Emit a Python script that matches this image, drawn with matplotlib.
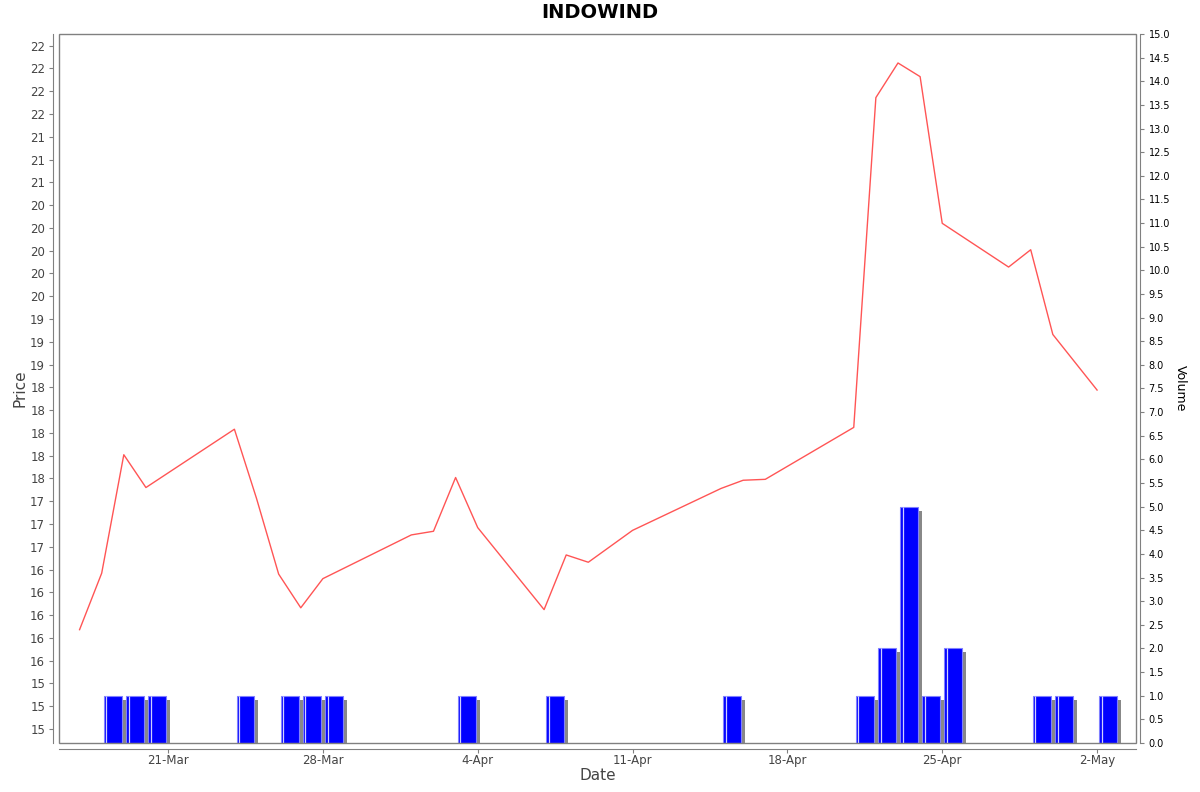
import matplotlib

matplotlib.use("Agg")
import matplotlib.dates as mdates
import matplotlib.pyplot as plt
import numpy as np
import pandas as pd
from matplotlib.patches import Rectangle
from matplotlib.transforms import offset_copy

TITLE = "INDOWIND"

price_dates = [
    "2025-03-17", "2025-03-18", "2025-03-19", "2025-03-20", "2025-03-21",
    "2025-03-24", "2025-03-25", "2025-03-26", "2025-03-27", "2025-03-28",
    "2025-04-01", "2025-04-02", "2025-04-03", "2025-04-04", "2025-04-07",
    "2025-04-08", "2025-04-09", "2025-04-11", "2025-04-15", "2025-04-16",
    "2025-04-17", "2025-04-21", "2025-04-22", "2025-04-23", "2025-04-24",
    "2025-04-25", "2025-04-28", "2025-04-29", "2025-04-30", "2025-05-02",
]
prices = [
    15.84, 16.46, 17.76, 17.40, 17.56,
    18.04, 17.28, 16.45, 16.08, 16.40,
    16.88, 16.92, 17.51, 16.96, 16.06,
    16.66, 16.58, 16.93, 17.39, 17.48,
    17.49, 18.06, 21.68, 22.06, 21.91,
    20.30, 19.82, 20.01, 19.08, 18.47,
]

volume_dates = [
    "2025-03-18", "2025-03-19", "2025-03-20", "2025-03-24", "2025-03-26",
    "2025-03-27", "2025-03-28", "2025-04-03", "2025-04-07", "2025-04-15",
    "2025-04-21", "2025-04-22", "2025-04-23", "2025-04-24", "2025-04-25",
    "2025-04-29", "2025-04-30", "2025-05-02",
]
volumes = [1, 1, 1, 1, 1, 1, 1, 1, 1, 1, 1, 2, 5, 1, 2, 1, 1, 1]

date_ticks = ["2025-03-21", "2025-03-28", "2025-04-04", "2025-04-11",
              "2025-04-18", "2025-04-25", "2025-05-02"]

AXIS_GREY = "#808080"
TEXT_GREY = "#444444"

px = mdates.date2num(pd.to_datetime(price_dates))
vx = mdates.date2num(pd.to_datetime(volume_dates))
tx = mdates.date2num(pd.to_datetime(date_ticks))

fig = plt.figure(figsize=(12, 7.92), dpi=100)
W, H = 1200, 792
ax = fig.add_axes([59 / W, 1 - 743 / H, (1136 - 59) / W, (743 - 34) / H])
ax2 = ax.twinx()
ax.set_zorder(ax2.get_zorder() + 1)
ax.patch.set_visible(False)

# volume bars with drop shadow
shadow = offset_copy(ax2.transData, fig=fig, x=4, y=-4, units="dots")
ax2.bar(vx + 0.1, volumes, width=0.8, align="edge", color="#888888",
        linewidth=0, transform=shadow, zorder=1)
ax2.bar(vx + 0.1, volumes, width=0.8, align="edge", color="#0000ff",
        edgecolor="#8080ff", linewidth=0.8, zorder=2)
hi = offset_copy(ax2.transData, fig=fig, x=2.5, y=0, units="dots")
ax2.vlines(vx + 0.1, 0, volumes, colors="#d0d0ff", linewidth=0.9,
           transform=hi, zorder=3)

# price line
ax.plot(px, prices, color="#ff5555", lw=1.0, zorder=4)

ax.set_xlim(tx[0] - 4.93, tx[0] + 43.76)
ax.set_ylim(14.596, 22.378)
ax2.set_ylim(0, 15)

yt = np.arange(14.75, 22.26, 0.25)
ax.set_yticks(yt, [str(round(v)) for v in yt])
ax.set_xticks(tx, [pd.Timestamp(d).strftime("%-d-%b") for d in date_ticks])
vt = np.arange(0, 15.01, 0.5)
ax2.set_yticks(vt, [f"{v:.1f}" for v in vt])

for s in ax.spines.values():
    s.set_visible(False)
for s in ax2.spines.values():
    s.set_visible(False)
ax.add_patch(Rectangle((0, 0), 1, 1, transform=ax.transAxes, fill=False,
                       edgecolor=AXIS_GREY, lw=1.0, zorder=10, clip_on=False))
for name in ("left", "bottom"):
    ax.spines[name].set_visible(True)
    ax.spines[name].set_position(("outward", 4))
    ax.spines[name].set_color(AXIS_GREY)
ax2.spines["right"].set_visible(True)
ax2.spines["right"].set_position(("outward", 3))
ax2.spines["right"].set_color(AXIS_GREY)

ax.tick_params(axis="both", direction="out", length=3, width=0.8,
               color=AXIS_GREY, labelcolor=TEXT_GREY, labelsize=8.5, pad=3)
ax.tick_params(axis="x", pad=1)
ax2.tick_params(axis="y", direction="out", length=3, width=0.8,
                color=AXIS_GREY, labelcolor="black", labelsize=7, pad=3)

ax.set_ylabel("Price", fontsize=11, color=TEXT_GREY, labelpad=2)
ax.set_xlabel("Date", fontsize=11, color=TEXT_GREY, labelpad=1)
ax2.set_ylabel("Volume", fontsize=9, color="black", rotation=-90, labelpad=12)
fig.text(0.5, 1 - 13 / H, TITLE, ha="center", va="center",
         fontsize=14, fontweight="bold")

fig.savefig("out.png", dpi=100)
